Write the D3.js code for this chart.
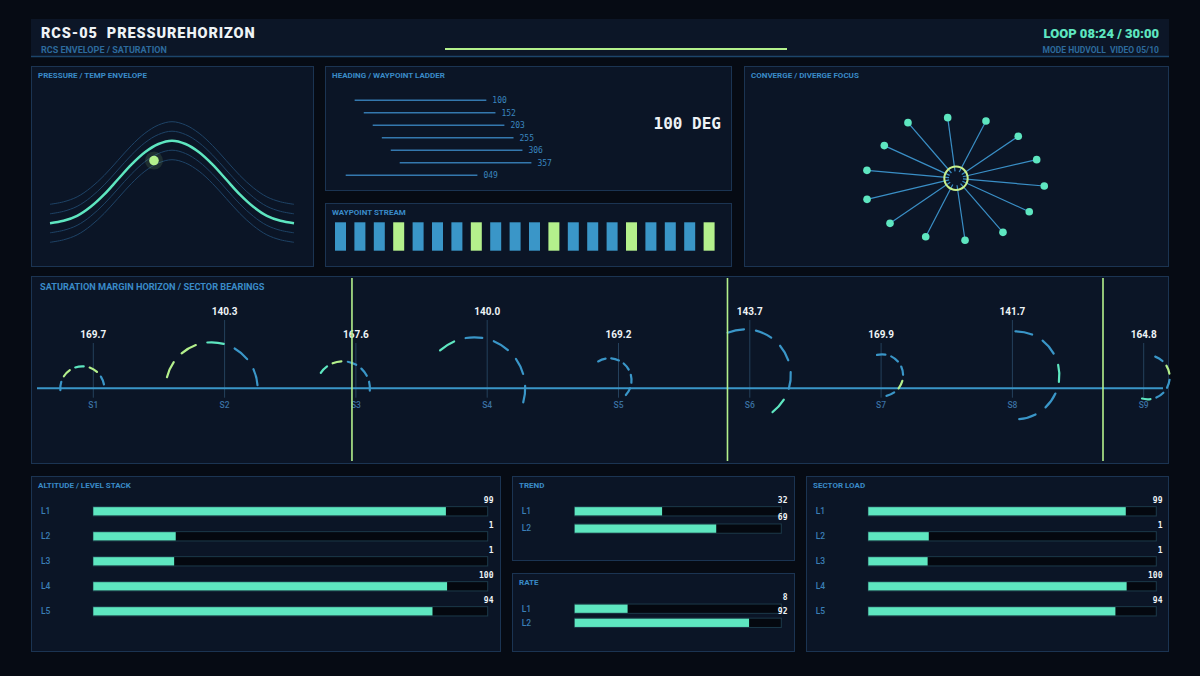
<!DOCTYPE html>
<html><head><meta charset="utf-8">
<script src="https://cdn.jsdelivr.net/npm/d3@7"></script>
<style>
html,body{margin:0;padding:0;background:#060b14;}
svg{display:block}
</style></head><body>
<svg id="c" width="1200" height="676" font-family="Roboto, 'DejaVu Sans', sans-serif"></svg>
<script>
// ---------------- DATA ----------------
const headerTitle = "RCS-05  PRESSUREHORIZON";
const headerSub = "RCS ENVELOPE / SATURATION";
const loopText = "LOOP 08:24 / 30:00";
const modeText = "MODE HUDVOLL  VIDEO 05/10";

const pressureCurve = [0, 0.03, 0.09, 0.2, 0.35, 0.53, 0.71, 0.86, 0.96, 1.0, 0.96, 0.86, 0.71, 0.53, 0.35, 0.2, 0.09, 0.03, 0];
const envelopeOffsets = [0.23, 0.115, -0.115, -0.23];
const pressureMarker = {t: 7.67, v: 0.76};

const ladderHeadings = [100, 152, 203, 255, 306, 357, 49];
const currentHeading = 100;

const streamStates = [0,0,0,1,0,0,0,1,0,0,0,1,0,0,0,1,0,0,0,1];

const focusAngles = [-7.8, 27.6, 56, 77, 95, 114.5, 139, 171.7, 207.4, 235.7, 256.7, 275.1, 294.5, 319.2];
const focusRadii  = [61.2, 64.7, 75.1, 82.8, 88.6, 80.5, 71.6, 62.6, 65.8, 79.9, 91.4, 89.4, 78.8, 73.5];

const sectorNames  = ["S1","S2","S3","S4","S5","S6","S7","S8","S9"];
const sectorValues = [169.7, 140.3, 167.6, 140.0, 169.2, 143.7, 169.9, 141.7, 164.8];
const cursorMarks  = [1.97, 4.83, 7.69];
const sweepDx     = [-11, -13, -13, -13, -9, -5, 1, 3, 4];
const sweepDy     = [0, 0, 0, 0, -8, -13, -13, -13, -11];
const sweepRadius = [22, 46, 27, 51, 22, 46, 21, 44, 22];
const sweepStart  = [-95, -76, -55, -42, -31, -22, -14, 0, 20];
const sweepEnd    = [80, 86, 95, 106, 132, 143, 168, 175, 195];
const sweepColors = [
  ["b","g","t","g","b"],
  ["g","g","t","b","b"],
  ["t","g","b","b","b"],
  ["t","b","b","b","b"],
  ["b","b","b","b","b"],
  ["b","b","b","b","t"],
  ["b","b","b","g","b"],
  ["b","b","t","b","b"],
  ["b","g","b","b","t"]
];

const levelLabels = ["L1","L2","L3","L4","L5"];
const altitudeFill = [89.4, 20.9, 20.5, 89.7, 86.0];
const altitudeValues = [99, 1, 1, 100, 94];
const trendLabels = ["L1","L2"];
const trendFill = [42.3, 68.5];
const trendValues = [32, 69];
const rateLabels = ["L1","L2"];
const rateFill = [25.6, 84.4];
const rateValues = [8, 92];
const sectorLoadFill = [89.4, 21.0, 20.6, 89.7, 85.8];
const sectorLoadValues = [99, 1, 1, 100, 94];

// ---------------- STYLE ----------------
const C = {
  panel:'#0b1526', border:'#1b3452', title:'#3a8bc8', teal:'#5ee6c0', green:'#b4f08c',
  blue:'#3a96c8', dim:'#1e4366', white:'#eef3f6', track:'#04080f', trackStroke:'#1c3a4a',
  label:'#3a7fb6', stem:'#24405c'
};
const dashCol = {b:C.blue, g:C.green, t:C.teal};
const MONO = "'DejaVu Sans Mono', monospace";

const svg = d3.select('#c');
svg.append('rect').attr('width',1200).attr('height',676).attr('fill','#060b14');

// header
svg.append('rect').attr('x',31).attr('y',19).attr('width',1138).attr('height',38).attr('fill','#0c1627');
svg.append('line').attr('x1',31).attr('x2',1169).attr('y1',56.5).attr('y2',56.5).attr('stroke','#1c456a').attr('stroke-width',1.5);
svg.append('text').attr('x',41).attr('y',38).attr('fill',C.white).attr('font-size',14.5).attr('font-weight',900)
  .attr('letter-spacing',0.9).style('white-space','pre').text(headerTitle);
svg.append('text').attr('x',41).attr('y',52.5).attr('fill','#2d6a9c').attr('font-size',9).attr('font-weight',700).text(headerSub);
svg.append('line').attr('x1',445).attr('x2',787).attr('y1',49).attr('y2',49).attr('stroke',C.green).attr('stroke-width',2);
svg.append('text').attr('x',1159).attr('y',38.3).attr('text-anchor','end').attr('fill',C.teal).attr('font-size',13).attr('font-weight',900).text(loopText);
svg.append('text').attr('x',1159).attr('y',52.5).attr('text-anchor','end').attr('fill','#2d6a9c').attr('font-size',8.5).attr('font-weight',700).style('white-space','pre').text(modeText);

// panels
const panels = [
  {x:31,y:66,w:282,h:200,t:'PRESSURE / TEMP ENVELOPE'},
  {x:325,y:66,w:406,h:124,t:'HEADING / WAYPOINT LADDER'},
  {x:325,y:203,w:406,h:63,t:'WAYPOINT STREAM'},
  {x:744,y:66,w:424,h:200,t:'CONVERGE / DIVERGE FOCUS'},
  {x:31,y:276,w:1137,h:187,t:'SATURATION MARGIN HORIZON / SECTOR BEARINGS',big:true},
  {x:31,y:476,w:469,h:175,t:'ALTITUDE / LEVEL STACK'},
  {x:512,y:476,w:282,h:84,t:'TREND'},
  {x:512,y:573,w:282,h:78,t:'RATE'},
  {x:806,y:476,w:362,h:175,t:'SECTOR LOAD'}
];
panels.forEach(p=>{
  svg.append('rect').attr('x',p.x+0.5).attr('y',p.y+0.5).attr('width',p.w).attr('height',p.h)
    .attr('fill',C.panel).attr('stroke',C.border).attr('stroke-width',1);
  svg.append('text').attr('x',p.x+(p.big?9:7)).attr('y',p.y+(p.big?14:12.3)).attr('fill',C.title)
    .attr('font-size',p.big?9.2:8).attr('font-weight',700).text(p.t);
});

// pressure envelope
{
  const x = d3.scaleLinear().domain([0,pressureCurve.length-1]).range([50,294]);
  const y = d3.scaleLinear().domain([0,1]).range([223.3,140.7]);
  const line = d3.line().x((d,i)=>x(i)).y(d=>y(d)).curve(d3.curveCatmullRom);
  envelopeOffsets.forEach(o=>{
    svg.append('path').attr('d',line(pressureCurve.map(v=>v+o))).attr('fill','none').attr('stroke',C.dim).attr('stroke-width',1);
  });
  svg.append('path').attr('d',line(pressureCurve)).attr('fill','none').attr('stroke',C.teal).attr('stroke-width',2.5);
  const mx = x(pressureMarker.t), my = y(pressureMarker.v);
  svg.append('circle').attr('cx',mx).attr('cy',my).attr('r',9).attr('fill',C.green).attr('opacity',0.12);
  svg.append('circle').attr('cx',mx).attr('cy',my).attr('r',4.8).attr('fill',C.green);
}

// heading ladder
{
  const hx = d3.scaleLinear().domain([49,357]).range([345.7,399.7]);
  const hy = d3.scalePoint().domain(d3.range(ladderHeadings.length)).range([100.3,175.3]);
  const len = 131.7;
  ladderHeadings.forEach((h,i)=>{
    svg.append('line').attr('x1',hx(h)).attr('x2',hx(h)+len).attr('y1',hy(i)).attr('y2',hy(i))
      .attr('stroke','#3478ae').attr('stroke-width',1.5);
    svg.append('text').attr('x',hx(h)+len+6).attr('y',hy(i)+3).attr('fill','#3a86bf')
      .attr('font-family',MONO).attr('font-size',8).text(String(h).padStart(3,'0'));
  });
  svg.append('text').attr('x',721).attr('y',128.5).attr('text-anchor','end').attr('fill',C.white)
    .attr('font-family',MONO).attr('font-weight',700).attr('font-size',16).text(`${currentHeading} DEG`);
}

// waypoint stream
{
  const bx = d3.scaleBand().domain(d3.range(streamStates.length)).range([335,714.6]).paddingInner(0.433).paddingOuter(0);
  svg.selectAll('rect.ws').data(streamStates).enter().append('rect')
    .attr('x',(d,i)=>bx(i)).attr('y',222.3).attr('width',bx.bandwidth()).attr('height',28.4)
    .attr('fill',d=>d?C.green:C.blue);
}

// converge focus
{
  const cx = 956, cy = 178.3;
  const r = d3.scaleLinear().domain([0,100]).range([0,100]);
  const g = svg.append('g').attr('transform',`translate(${cx},${cy})`);
  focusAngles.forEach((a,i)=>{
    const rad = a*Math.PI/180;
    const p0 = d3.pointRadial(rad, 7), p1 = d3.pointRadial(rad, r(focusRadii[i]));
    g.append('line').attr('x1',p0[0]).attr('y1',p0[1]).attr('x2',p1[0]).attr('y2',p1[1])
      .attr('stroke','#3a8fc6').attr('stroke-width',1.2);
  });
  focusAngles.forEach((a,i)=>{
    const p1 = d3.pointRadial(a*Math.PI/180, r(focusRadii[i]));
    g.append('circle').attr('cx',p1[0]).attr('cy',p1[1]).attr('r',3.8).attr('fill',C.teal);
  });
  g.append('circle').attr('r',11.7).attr('fill','none').attr('stroke','#c8f08c').attr('stroke-width',2);
}

// saturation horizon
{
  const sx = d3.scalePoint().domain(sectorNames).range([93.3,1143.7]);
  const ux = d3.scaleLinear().domain([0,sectorNames.length-1]).range([93.3,1143.7]);
  const hy = 388.3;
  sectorNames.forEach((s,i)=>{
    const top = i%2 ? 320 : 343;
    svg.append('line').attr('x1',sx(s)).attr('x2',sx(s)).attr('y1',top).attr('y2',397.7)
      .attr('stroke',C.stem).attr('stroke-width',1);
  });
  svg.append('line').attr('x1',37).attr('x2',1163).attr('y1',hy).attr('y2',hy).attr('stroke',C.blue).attr('stroke-width',2);
  sectorNames.forEach((s,i)=>{
    const cx = sx(s)+sweepDx[i], cy = hy+sweepDy[i], rr = sweepRadius[i];
    const span = sweepEnd[i]-sweepStart[i];
    const n = sweepColors[i].length;
    const d = span/(n + (n-1)*15/21), gap = d*15/21;
    sweepColors[i].forEach((c,k)=>{
      const a0 = (sweepStart[i] + k*(d+gap) - 90)*Math.PI/180;
      const a1 = a0 + d*Math.PI/180;
      const p = d3.path();
      p.moveTo(cx+rr*Math.cos(a0), cy+rr*Math.sin(a0));
      p.arc(cx,cy,rr,a0,a1);
      svg.append('path').attr('d',p.toString()).attr('fill','none').attr('stroke',dashCol[c])
        .attr('stroke-width',2.2).attr('stroke-linecap','round');
    });
  });
  sectorNames.forEach((s,i)=>{
    const top = i%2 ? 320 : 343;
    svg.append('text').attr('x',sx(s)).attr('y',top-5).attr('text-anchor','middle').attr('fill',C.white)
      .attr('font-size',10).attr('font-weight',700).text(sectorValues[i].toFixed(1));
    svg.append('text').attr('x',sx(s)).attr('y',407.5).attr('text-anchor','middle').attr('fill','#3a70a2')
      .attr('font-size',8.5).attr('font-weight',500).text(s);
  });
  cursorMarks.forEach(m=>{
    svg.append('line').attr('x1',ux(m)).attr('x2',ux(m)).attr('y1',278).attr('y2',461)
      .attr('stroke',C.green).attr('stroke-width',1.6);
  });
}

// bar panels
function barPanel(labels, fills, values, cfg){
  const x = d3.scaleLinear().domain([0,100]).range([cfg.x0,cfg.x1]);
  labels.forEach((l,i)=>{
    const yc = cfg.y0 + i*cfg.step;
    const h = 9.3;
    svg.append('text').attr('x',cfg.lx).attr('y',yc+2.8).attr('fill',C.label).attr('font-size',8.5).attr('font-weight',500).text(l);
    svg.append('rect').attr('x',x(0)).attr('y',yc-h/2).attr('width',x(100)-x(0)).attr('height',h)
      .attr('fill',C.track).attr('stroke',C.trackStroke).attr('stroke-width',1);
    svg.append('rect').attr('x',x(0)).attr('y',yc-h/2+0.5).attr('width',x(fills[i])-x(0)).attr('height',h-1)
      .attr('fill',C.teal);
    svg.append('text').attr('x',cfg.vx).attr('y',yc-h/2-4).attr('text-anchor','end').attr('fill',C.white)
      .attr('font-family',MONO).attr('font-weight',700).attr('font-size',8).text(values[i]);
  });
}
barPanel(levelLabels, altitudeFill, altitudeValues, {x0:93.3,x1:487.7,y0:511.3,step:25,lx:41,vx:493.5});
barPanel(trendLabels, trendFill, trendValues, {x0:574.7,x1:781.3,y0:511.3,step:17.3,lx:521.7,vx:787.5});
barPanel(rateLabels, rateFill, rateValues, {x0:574.7,x1:781.3,y0:608.7,step:14.1,lx:521.7,vx:787.5});
barPanel(levelLabels, sectorLoadFill, sectorLoadValues, {x0:868.3,x1:1156.3,y0:511.3,step:25,lx:815.7,vx:1162.5});
</script>
</body></html>
